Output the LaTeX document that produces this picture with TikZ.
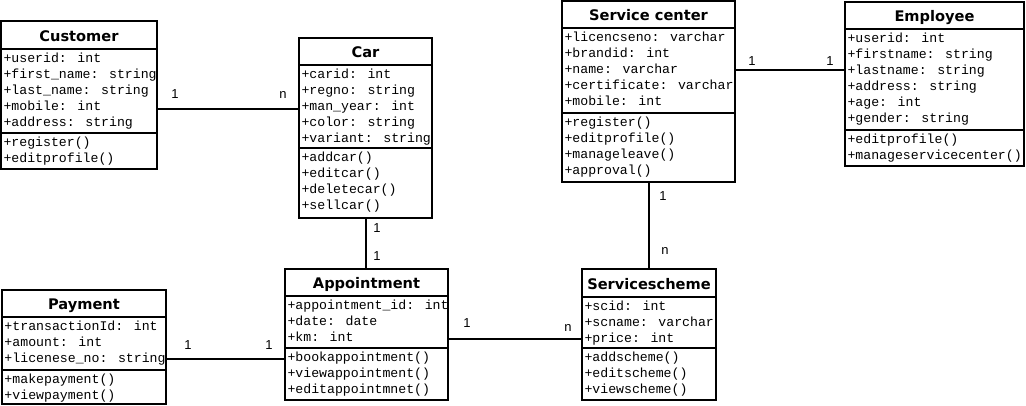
\documentclass[tikz,border=0pt]{standalone}
\usepackage{fontspec}
\setmainfont{DejaVu Sans}
\newfontfamily\monof{Liberation Mono}
\newfontfamily\labf{Liberation Sans}
\usetikzlibrary{calc}
\newcommand\umlclass[8]{% name, L, T, W, h1, h2, h3, title
  \node[sect, title, minimum width=#4, minimum height=#5, anchor=north west] (#1T) at (#2,#3) {#8};
  \node[sect, minimum width=#4, minimum height=#6, anchor=north west] (#1A) at (#1T.south west) {};
  \node[sect, minimum width=#4, minimum height=#7, anchor=north west] (#1M) at (#1A.south west) {};
}
\newcommand\umlrows[2]{% section node, list
  \foreach \txt [count=\i from 0] in {#2} {
    \node[row] (#1r\i) at ($(#1.north west)+(2.3,13.5+16*\i)$) {\txt};
  }
}
\begin{document}
\begin{tikzpicture}[x=1pt,y=-1pt,
  sect/.style={draw, line width=2pt, inner sep=0pt, outer sep=0pt},
  title/.style={font=\fontsize{14.6}{15}\selectfont\bfseries, text height=12.5pt, text depth=0pt},
  row/.style={font=\fontsize{13.2}{16}\monof, anchor=base west, inner sep=0pt},
  conn/.style={line width=2pt},
  mult/.style={font=\fontsize{13}{13}\labf, anchor=base, inner sep=0pt}]
\useasboundingbox (0,0) rectangle (1026,406);

% classes
\umlclass{cust}{1}{21}{156}{28}{84}{36}{Customer}
\umlrows{custA}{+userid: int,+first\_name: string,+last\_name: string,+mobile: int,+address: string}
\umlrows{custM}{+register(),+editprofile()}

\umlclass{car}{299}{38}{133}{27}{83}{70}{Car}
\umlrows{carA}{+carid: int,+regno: string,+man\_year: int,+color: string,+variant: string}
\umlrows{carM}{+addcar(),+editcar(),+deletecar(),+sellcar()}

\umlclass{sc}{562}{1.5}{173}{26.5}{85}{69}{Service center}
\umlrows{scA}{+licencseno: varchar,+brandid: int,+name: varchar,+certificate: varchar,+mobile: int}
\umlrows{scM}{+register(),+editprofile(),+manageleave(),+approval()}

\umlclass{emp}{845}{2}{179}{27}{101}{36}{Employee}
\umlrows{empA}{+userid: int,+firstname: string,+lastname: string,+address: string,+age: int,+gender: string}
\umlrows{empM}{+editprofile(),+manageservicecenter()}

\umlclass{pay}{2}{290}{164}{27}{53}{34}{Payment}
\umlrows{payA}{+transactionId: int,+amount: int,+licenese\_no: string}
\umlrows{payM}{+makepayment(),+viewpayment()}

\umlclass{app}{285}{269}{163}{27}{52}{52}{Appointment}
\umlrows{appA}{+appointment\_id: int,+date: date,+km: int}
\umlrows{appM}{+bookappointment(),+viewappointment(),+editappointmnet()}

\umlclass{ss}{582}{269}{134}{28}{51}{52}{Servicescheme}
\umlrows{ssA}{+scid: int,+scname: varchar,+price: int}
\umlrows{ssM}{+addscheme(),+editscheme(),+viewscheme()}

% connectors
\path (custA.north east) ++(0,60) coordinate (cc1);
\draw[conn] (cc1) -- (cc1 -| carA.west);
\draw[conn] (carM.south) -- (carM.south |- appT.north);
\draw[conn] (scA.east) -- (scA.east -| empA.west);
\draw[conn] (scM.south) -- (scM.south |- ssT.north);
\path (payA.north east) ++(0,42) coordinate (pa1);
\draw[conn] (pa1) -- (pa1 -| appM.west);
\path (appA.north east) ++(0,43) coordinate (as1);
\draw[conn] (as1) -- (as1 -| ssA.west);

% multiplicities
\node[mult] (m1) at (175,99) {1};
\node[mult] (m2) at (283,99) {n};
\node[mult] (m3) at (377,233) {1};
\node[mult] (m4) at (377,261) {1};
\node[mult] (m5) at (752,66) {1};
\node[mult] (m6) at (830,66) {1};
\node[mult] (m7) at (663,201) {1};
\node[mult] (m8) at (665,255) {n};
\node[mult] (m9) at (188,349) {1};
\node[mult] (m10) at (269,349) {1};
\node[mult] (m11) at (467,327) {1};
\node[mult] (m12) at (568,331) {n};
\end{tikzpicture}
\end{document}
